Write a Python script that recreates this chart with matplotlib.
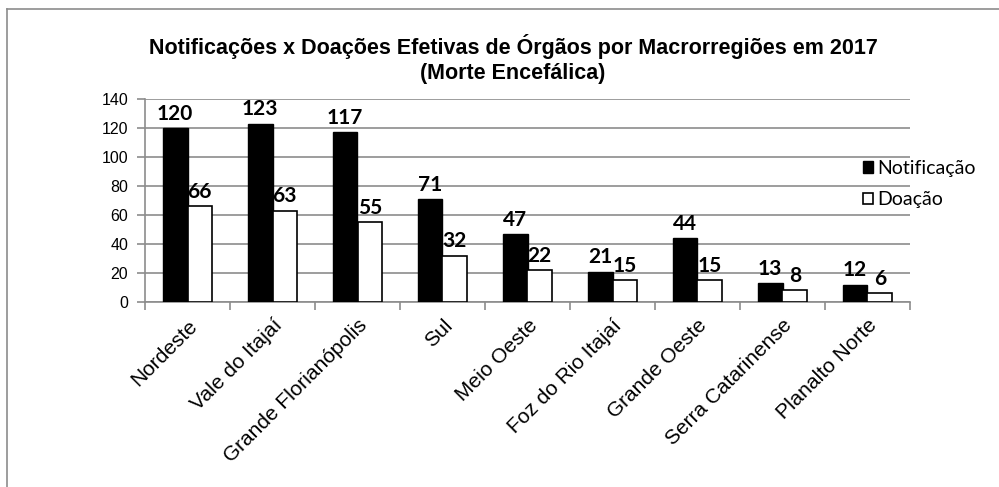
import numpy as np
import matplotlib
matplotlib.use("Agg")
import matplotlib.pyplot as plt
from matplotlib.lines import Line2D
from matplotlib.patches import Patch

# ===================== DATA =====================
regioes = ["Nordeste", "Vale do Itajaí", "Grande Florianópolis", "Sul", "Meio Oeste",
           "Foz do Rio Itajaí", "Grande Oeste", "Serra Catarinense", "Planalto Norte"]
notificacao = [120, 123, 117, 71, 47, 21, 44, 13, 12]
doacao = [66, 63, 55, 32, 22, 15, 15, 8, 6]
yticks = [0, 20, 40, 60, 80, 100, 120, 140]

TITLE = "Notificações x Doações Efetivas de Órgãos por Macrorregiões em 2017\n(Morte Encefálica)"
GRID = "#8c8c8c"

fig = plt.figure(figsize=(9.99, 4.87), dpi=100)

# moldura (só topo e esquerda, como no original recortado)
fig.add_artist(Line2D([7 / 999, 1.0], [1 - 9 / 487, 1 - 9 / 487], color=GRID, lw=1.2))
fig.add_artist(Line2D([7 / 999, 7 / 999], [0, 1 - 9 / 487], color=GRID, lw=1.2))

ax = fig.add_axes([145 / 999, 1 - 302 / 487, (910 - 145) / 999, (302 - 99) / 487])

x = np.arange(len(regioes))
w = 0.29
b1 = ax.bar(x - w / 2, notificacao, w, color="black", edgecolor="black", lw=1, zorder=3)
b2 = ax.bar(x + w / 2, doacao, w, color="white", edgecolor="black", lw=1.2, zorder=3)

# rótulos de valor em cima das barras
for bars, vals in ((b1, notificacao), (b2, doacao)):
    for r, v in zip(bars, vals):
        ax.annotate(str(v), (r.get_x() + r.get_width() / 2, v), xytext=(0, 3),
                    textcoords="offset points", ha="center", va="bottom",
                    fontsize=15, fontweight="bold", family="Lato")

ax.set_xlim(-0.5, len(regioes) - 0.5)
ax.set_ylim(0, 140)
ax.set_yticks(yticks)
ax.yaxis.grid(True, color=GRID, lw=1.2, zorder=0)
ax.set_axisbelow(True)

ax.set_xticks(x)
ax.set_xticklabels(regioes, rotation=45, ha="right", rotation_mode="anchor",
                   fontsize=15, family="Liberation Sans")
ax.set_xticks(np.arange(len(regioes) + 1) - 0.5, minor=True)
ax.tick_params(axis="x", which="major", length=0, pad=10)
ax.tick_params(axis="x", which="minor", length=6, color=GRID, width=1.2)
ax.tick_params(axis="y", length=6, color=GRID, width=1.2, pad=6)
for lab in ax.get_yticklabels():
    lab.set_family("Liberation Sans")
    lab.set_fontsize(11.5)

for s in ("top", "right"):
    ax.spines[s].set_visible(False)
for s in ("left", "bottom"):
    ax.spines[s].set_color(GRID)
    ax.spines[s].set_linewidth(1.2)

fig.text(513 / 999, 1 - 59 / 487, TITLE, ha="center", va="center", fontsize=15.5,
         fontweight="bold", family="Liberation Sans", linespacing=1.25)

handles = [Patch(facecolor="black", edgecolor="black"),
           Patch(facecolor="white", edgecolor="black", lw=1.2)]
fig.legend(handles, ["Notificação", "Doação"], loc="center left",
           bbox_to_anchor=(853 / 999, 1 - 184 / 487), frameon=False,
           prop={"family": "Lato", "size": 14}, handlelength=0.55, handleheight=0.55,
           handletextpad=0.2, labelspacing=0.75, borderpad=0)

fig.savefig("out.png", dpi=100)
